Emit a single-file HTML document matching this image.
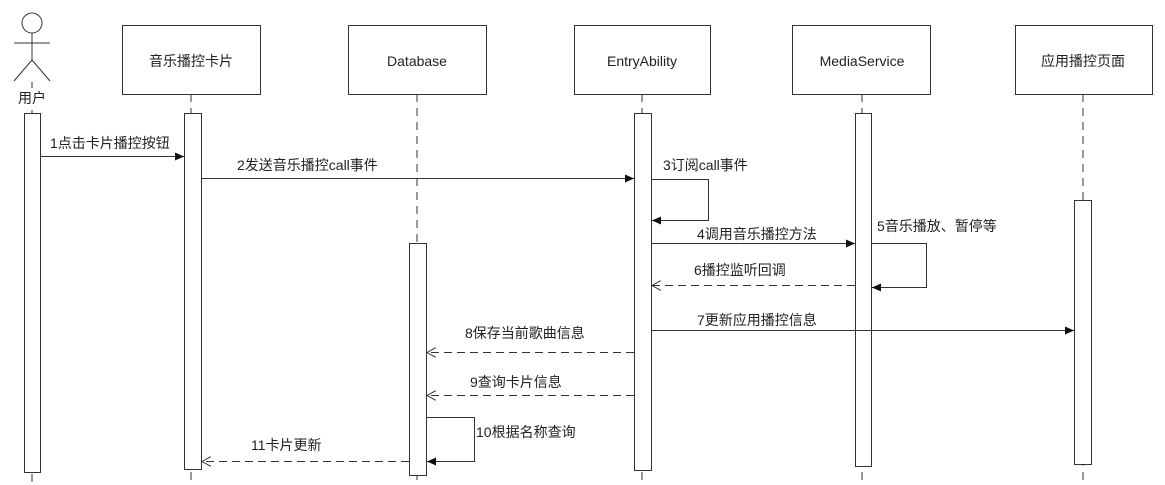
<!DOCTYPE html><html><head><meta charset="utf-8"><style>body{margin:0;background:#fff}svg{display:block}text{font-family:"Liberation Sans","Noto Sans CJK SC",sans-serif;font-size:14px;fill:#222}</style></head><body>
<svg width="1165" height="485" viewBox="0 0 1165 485">
<defs>
<marker id="f" markerWidth="10" markerHeight="8" refX="9" refY="4" orient="auto" markerUnits="userSpaceOnUse"><path d="M0,0 L9,4 L0,8 z" fill="#111"/></marker>
<marker id="o" markerWidth="10" markerHeight="10" refX="9" refY="5" orient="auto" markerUnits="userSpaceOnUse"><path d="M0,0 L9,5 L0,10" fill="none" stroke="#333"/></marker>
</defs>
<g stroke="#333" stroke-width="1" fill="none">
<line x1="32" y1="82" x2="32" y2="485" stroke-dasharray="8,6"/>
<line x1="191" y1="94" x2="191" y2="485" stroke-dasharray="8,6"/>
<line x1="417" y1="94" x2="417" y2="485" stroke-dasharray="8,6"/>
<line x1="642" y1="94" x2="642" y2="485" stroke-dasharray="8,6"/>
<line x1="862" y1="94" x2="862" y2="485" stroke-dasharray="8,6"/>
<line x1="1083" y1="94" x2="1083" y2="485" stroke-dasharray="8,6"/>
<circle cx="32" cy="23" r="10" fill="#fff"/>
<line x1="14" y1="43" x2="50" y2="43"/><line x1="32" y1="33" x2="32" y2="60"/>
<line x1="32" y1="60" x2="14" y2="81"/><line x1="32" y1="60" x2="50" y2="81"/>
<rect x="122.5" y="25.5" width="138" height="69" fill="#fff"/>
<rect x="348.5" y="25.5" width="138" height="69" fill="#fff"/>
<rect x="574.5" y="25.5" width="136" height="69" fill="#fff"/>
<rect x="792.5" y="25.5" width="138" height="69" fill="#fff"/>
<rect x="1015.5" y="25.5" width="137" height="69" fill="#fff"/>
<rect x="24.5" y="113.5" width="16" height="359" fill="#fff"/>
<rect x="184.5" y="113.5" width="17" height="356" fill="#fff"/>
<rect x="409.5" y="243.5" width="17" height="232" fill="#fff"/>
<rect x="634.5" y="113.5" width="17" height="357" fill="#fff"/>
<rect x="855.5" y="113.5" width="16" height="353" fill="#fff"/>
<rect x="1074.5" y="200.5" width="17" height="264" fill="#fff"/>
<line x1="41" y1="156.5" x2="184" y2="156.5" marker-end="url(#f)"/>
<line x1="202" y1="178.5" x2="634" y2="178.5" marker-end="url(#f)"/>
<polyline points="652,179.5 708.5,179.5 708.5,220.5 652,220.5" marker-end="url(#f)"/>
<line x1="652" y1="243.5" x2="855" y2="243.5" marker-end="url(#f)"/>
<polyline points="872,243.5 926.5,243.5 926.5,287.5 872,287.5" marker-end="url(#f)"/>
<line x1="855" y1="285.5" x2="652" y2="285.5" stroke-dasharray="8,5" marker-end="url(#o)"/>
<line x1="652" y1="330.5" x2="1074" y2="330.5" marker-end="url(#f)"/>
<line x1="634" y1="352.5" x2="427" y2="352.5" stroke-dasharray="8,5" marker-end="url(#o)"/>
<line x1="634" y1="395.5" x2="427" y2="395.5" stroke-dasharray="8,5" marker-end="url(#o)"/>
<polyline points="427,417.5 474.5,417.5 474.5,461.5 427,461.5" marker-end="url(#f)"/>
<line x1="409" y1="461.5" x2="202" y2="461.5" stroke-dasharray="8,5" marker-end="url(#o)"/>
</g>
<rect x="16" y="88" width="32" height="18" fill="#fff"/>
<text x="32" y="103" text-anchor="middle">用户</text>
<text x="191" y="66" text-anchor="middle">音乐播控卡片</text>
<text x="417" y="66" text-anchor="middle">Database</text>
<text x="642" y="66" text-anchor="middle">EntryAbility</text>
<text x="862" y="66" text-anchor="middle">MediaService</text>
<text x="1083" y="66" text-anchor="middle">应用播控页面</text>
<text x="50" y="148">1点击卡片播控按钮</text>
<text x="237" y="170">2发送音乐播控call事件</text>
<text x="663" y="170">3订阅call事件</text>
<text x="697" y="239">4调用音乐播控方法</text>
<text x="877" y="231">5音乐播放、暂停等</text>
<text x="694" y="275">6播控监听回调</text>
<text x="697" y="325">7更新应用播控信息</text>
<text x="465" y="338">8保存当前歌曲信息</text>
<text x="470" y="387">9查询卡片信息</text>
<text x="476" y="437">10根据名称查询</text>
<text x="251" y="450">11卡片更新</text>
</svg></body></html>
